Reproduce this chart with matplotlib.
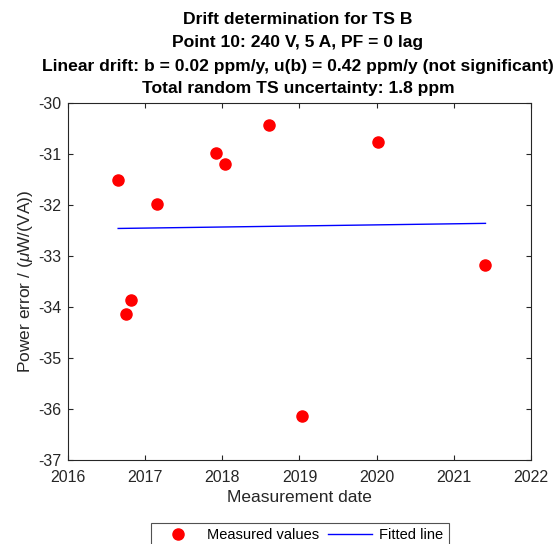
import matplotlib
matplotlib.use("Agg")
import matplotlib.pyplot as plt
import numpy as np

plt.rcParams['font.family'] = ['Liberation Sans', 'DejaVu Sans']
plt.rcParams['mathtext.fontset'] = 'custom'
plt.rcParams['mathtext.it'] = 'Liberation Sans:italic'
plt.rcParams['mathtext.rm'] = 'Liberation Sans'
plt.rcParams['axes.unicode_minus'] = False

# Data
dates = [2016.65, 2016.75, 2016.82, 2017.15, 2017.92, 2018.04, 2018.60, 2019.03, 2020.02, 2021.41]
errors = [-31.50, -34.14, -33.86, -31.99, -30.99, -31.19, -30.43, -36.14, -30.76, -33.17]
fit_x = [2016.65, 2021.41]
fit_y = [-32.46, -32.36]
x_ticks = [2016, 2017, 2018, 2019, 2020, 2021, 2022]
y_ticks = [-37, -36, -35, -34, -33, -32, -31, -30]

title_lines = ["Drift determination for TS B",
               "Point 10: 240 V, 5 A, PF = 0 lag",
               "Linear drift: b = 0.02 ppm/y, u(b) = 0.42 ppm/y (not significant)",
               "Total random TS uncertainty: 1.8 ppm"]

fig = plt.figure(figsize=(5.56, 5.44), dpi=100)
ax = fig.add_axes([68/556, 1-460/544, (531-68)/556, (460-103)/544])

ax.plot(dates, errors, 'o', color='#ff0000', markersize=8, label='Measured values', linestyle='none')
ax.plot(fit_x, fit_y, '-', color='#0000ff', linewidth=1.0, label='Fitted line')

ax.set_xlim(2016, 2022)
ax.set_ylim(-37, -30)
ax.set_xticks(x_ticks)
ax.set_yticks(y_ticks)
ax.tick_params(direction='in', top=True, right=True, labelsize=11.5, length=3.5,
               colors='#262626', labelcolor='#262626')
ax.tick_params(axis='x', pad=7)
ax.tick_params(axis='y', pad=5)
for s in ax.spines.values():
    s.set_color('#262626')
    s.set_linewidth(0.8)

ax.set_xlabel('Measurement date', fontsize=12.5, color='#262626', labelpad=4)
ax.set_ylabel(r'Power error / ($\mu$W/(VA))', fontsize=12.5, color='#262626', labelpad=2)

ys = [20, 43, 66, 88]
for t, y in zip(title_lines, ys):
    fig.text(298/556, 1-y/544, t, ha='center', va='center', fontsize=12.6, fontweight='bold', color='black')

leg = fig.legend(loc='upper center', bbox_to_anchor=(300/556, 1-523/544), ncol=2, frameon=True,
                 fontsize=10.5, fancybox=False, edgecolor='#262626', handlelength=3.0,
                 columnspacing=0.6, borderpad=0.35, borderaxespad=0, handletextpad=0.5)
leg.get_frame().set_linewidth(0.8)

fig.savefig('out.png', dpi=100)
